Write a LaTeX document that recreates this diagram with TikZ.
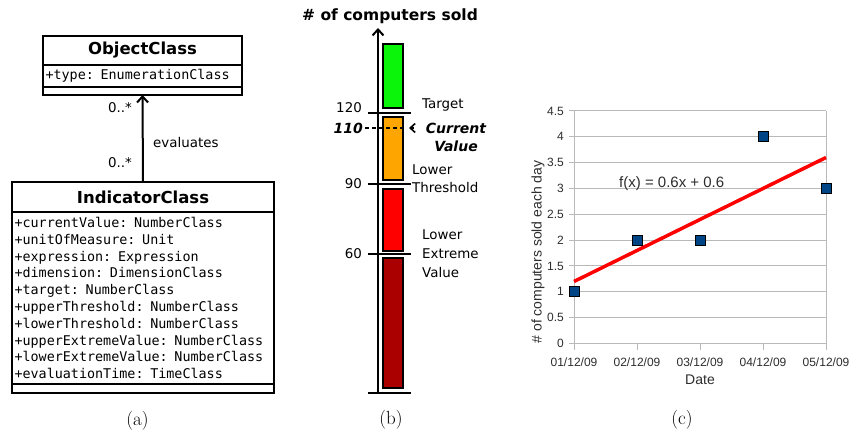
\documentclass[tikz,border=0pt]{standalone}
\usepackage{fontspec}
\setsansfont{DejaVu Sans}
\setmonofont{DejaVu Sans Mono}
\newfontfamily\chartfont{Liberation Sans}
\usetikzlibrary{arrows.meta,positioning,calc}

\definecolor{barGreen}{RGB}{10,245,10}
\definecolor{barOrange}{RGB}{255,165,0}
\definecolor{barRed}{RGB}{255,0,0}
\definecolor{barDark}{RGB}{170,0,0}
\definecolor{chartBlue}{RGB}{0,69,134}
\definecolor{gridGray}{RGB}{185,185,185}
\definecolor{labelGray}{RGB}{45,45,45}

\begin{document}
\begin{tikzpicture}[x=1pt,y=-1pt,
  umlbox/.style={draw, line width=1.8pt, outer sep=0pt, inner sep=0pt},
  umltitle/.style={umlbox, font=\sffamily\bfseries\fontsize{16.5}{20}\selectfont},
  umlattr/.style={umlbox, inner xsep=2.5pt, align=left, font=\ttfamily\fontsize{13.4}{16.8}\selectfont},
  lbl/.style={inner sep=2pt, font=\sffamily\fontsize{13.4}{18}\selectfont},
  emph/.style={inner sep=2pt, font=\sffamily\bfseries\itshape\fontsize{14}{18}\selectfont},
  bar/.style={draw, line width=1.8pt},
  tickline/.style={line width=2pt},
  grid/.style={draw=gridGray, line width=1pt},
  ticklbl/.style={inner sep=1pt, text=labelGray, font=\chartfont\fontsize{12}{14}\selectfont},
  axtitle/.style={inner sep=1pt, text=labelGray, font=\chartfont\fontsize{14}{16}\selectfont},
  caption/.style={inner sep=0pt, font=\rmfamily\fontsize{19}{22}\selectfont}]
\useasboundingbox (0,0) rectangle (851,434);

%%%%%%%%%%%%%%%%%%%%%%%%%%%%%%%%%%%%%%%%%%%%%%%%%%%%%%%%%%%%%%%%%%%%%%%%%%%%%%%% (a) class diagram
\node[umltitle, minimum width=199pt, minimum height=29pt, anchor=north west] (objTitle) at (43,36) {ObjectClass};
\node[umlattr, text width=194pt, minimum height=22pt, below=0pt of objTitle] (objAttr) {+type: EnumerationClass};
\node[umlbox, minimum width=199pt, minimum height=8pt, below=0pt of objAttr] (objOps) {};

\node[umltitle, minimum width=262pt, minimum height=30pt, anchor=north west] (indTitle) at (12,182) {IndicatorClass};
\node[umlattr, text width=257pt, minimum height=172pt, below=0pt of indTitle] (indAttr) {+currentValue: NumberClass\\
+unitOfMeasure: Unit\\
+expression: Expression\\
+dimension: DimensionClass\\
+target: NumberClass\\
+upperThreshold: NumberClass\\
+lowerThreshold: NumberClass\\
+upperExtremeValue: NumberClass\\
+lowerExtremeValue: NumberClass\\
+evaluationTime: TimeClass};
\node[umlbox, minimum width=262pt, minimum height=9pt, below=0pt of indAttr] (indOps) {};

\draw[line width=2pt, -{Straight Barb[length=6pt,width=11pt]}] (indTitle.north) -- (objOps.south); %association
\node[lbl, anchor=east] (multTop) at (134,108) {0..*};
\node[lbl, anchor=east] (multBot) at (134,163) {0..*};
\node[lbl, anchor=west] (assocLbl) at (151,143) {evaluates};

\node[caption] (capA) at (137.5,421) {(a)};

%%%%%%%%%%%%%%%%%%%%%%%%%%%%%%%%%%%%%%%%%%%%%%%%%%%%%%%%%%%%%%%%%%%%%%%%%%%%%%%% (b) gauge
\node[inner sep=0pt, font=\sffamily\bfseries\fontsize{15.5}{18}\selectfont] (gaugeTitle) at (390,16) {\# of computers sold};
\coordinate (axBot) at (378,393);
\coordinate (axTop) at (378,28);
\draw[line width=2pt, -{Straight Barb[length=6pt,width=11pt]}] (axBot) -- (axTop); %vertical axis

\draw[bar, fill=barGreen] (383,44) rectangle (403,108); %target reached
\draw[bar, fill=barOrange] (383,117) rectangle (403,180);
\draw[bar, fill=barRed] (383,189) rectangle (403,251);
\draw[bar, fill=barDark] (383,258) rectangle (403,388);

\foreach \y in {113,184,254,393}
  \draw[tickline] (368,\y) -- (411,\y);

\node[lbl, anchor=east] (lvlTarget) at (364,108) {120};
\node[lbl, anchor=east] (lvlThresh) at (364,184) {90};
\node[lbl, anchor=east] (lvlExtreme) at (364,254) {60};

\node[emph, anchor=east] (curNum) at (365,128) {110};
\coordinate (dashEnd) at (405,128);
\draw[line width=1.8pt, dash pattern=on 4pt off 3pt] (curNum.east) -- (dashEnd);
\coordinate (curTail) at (414,128);
\coordinate (curTip) at (409,128);
\draw[line width=1.6pt, -{Straight Barb[length=5pt,width=9pt]}] (curTail) -- (curTip);
\node[emph, align=center] (curLbl) at (456,137) {Current\\Value};

\node[lbl, anchor=west] (tgtLbl) at (420,105) {Target};
\node[lbl, anchor=west, align=left] (thrLbl) at (410,179) {Lower\\Threshold};
\node[lbl, anchor=west, align=left, font=\sffamily\fontsize{13.4}{19}\selectfont] (extLbl) at (420,254) {Lower\\Extreme\\Value};

\node[caption] (capB) at (391,420) {(b)};

%%%%%%%%%%%%%%%%%%%%%%%%%%%%%%%%%%%%%%%%%%%%%%%%%%%%%%%%%%%%%%%%%%%%%%%%%%%%%%%% (c) chart
\begin{scope}[shift={(511,343.5)}, x=63pt, y=51.67pt]
\foreach \v in {0.5,1,1.5,2,2.5,3,3.5,4,4.5}
  \draw[grid] (1,\v) -- (5,\v); %horizontal grid
\draw[grid] (1,0) -- (5,0);
\draw[grid] (1,0) -- (1,4.5);
\draw[grid] (5,0) -- (5,4.5);
\foreach \v [count=\i] in {0,0.5,1,1.5,2,2.5,3,3.5,4,4.5} {
  \draw[grid] (1,\v) -- ++(-5pt,0);
  \node[ticklbl, anchor=east, xshift=-9pt] (yt\i) at (1,\v) {\v};
}
\foreach \d in {1,...,5} {
  \draw[grid] (\d,0) -- ++(0,-6pt);
  \node[ticklbl, yshift=-18.5pt] (xt\d) at (\d,0) {0\d/12/09};
}
\node[axtitle, yshift=-36.5pt] (dateLbl) at (3,0) {Date};
\node[axtitle, rotate=90] (countLbl) at (0.4286,1.771) {\# of computers sold each day};

\draw[draw=barRed, line width=3.5pt] (1,1.2) -- (5,3.6); %trend line
\node[inner sep=0pt, anchor=west, text=labelGray, font=\chartfont\fontsize{15}{17}\selectfont] (eqLbl) at (1.714,3.087) {f(x) = 0.6x + 0.6};

\foreach \d/\v in {1/1,2/2,3/2,4/4,5/3}
  \node[draw=black, fill=chartBlue, line width=0.8pt, minimum size=10pt, inner sep=0pt] (pt\d) at (\d,\v) {};
\end{scope}

\node[caption] (capC) at (682,420) {(c)};
\end{tikzpicture}
\end{document}
